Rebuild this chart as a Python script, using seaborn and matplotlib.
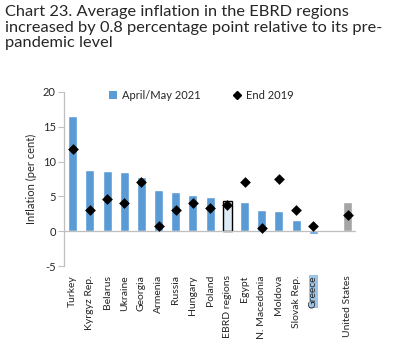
import numpy as np
import pandas as pd
import matplotlib
matplotlib.use("Agg")
import matplotlib.pyplot as plt
import seaborn as sns
from matplotlib.patches import Patch
from matplotlib.lines import Line2D

countries = ["Turkey", "Kyrgyz Rep.", "Belarus", "Ukraine", "Georgia", "Armenia", "Russia",
             "Hungary", "Poland", "EBRD regions", "Egypt", "N. Macedonia", "Moldova",
             "Slovak Rep.", "Greece", " ", "United States"]
apr_may_2021 = [16.5, 8.8, 8.6, 8.5, 7.8, 5.9, 5.6, 5.2, 4.9, 4.4, 4.2, 3.0, 2.9, 1.6, -0.4, np.nan, 4.2]
end_2019 = [11.8, 3.1, 4.7, 4.1, 7.0, 0.7, 3.1, 4.0, 3.4, 3.8, 7.1, 0.4, 7.5, 3.0, 0.8, np.nan, 2.3]

blue = "#5B9BD5"
colors = {c: blue for c in countries}
colors["EBRD regions"] = "#DDEBF7"
colors["United States"] = "#A5A5A5"

df = pd.DataFrame({"country": countries, "apr": apr_may_2021, "end": end_2019})

sns.set_style("white")
plt.rcParams["font.family"] = ["Lato", "DejaVu Sans"]

fig = plt.figure(figsize=(3.98, 3.62), dpi=100)
ax = fig.add_axes([0.161, 0.265, 0.734, 0.481])

sns.barplot(data=df, x="country", y="apr", hue="country", order=countries, hue_order=countries,
            palette=colors, width=0.52, legend=False, ax=ax, saturation=1)
for p, c in zip(ax.patches, countries):
    if c == "EBRD regions":
        p.set_edgecolor("black")
        p.set_linewidth(1.0)

sns.scatterplot(x=np.arange(len(countries)), y=df["end"], marker="D", color="black",
                s=30, linewidth=0, ax=ax, zorder=3)

ax.set_xlim(-0.5, len(countries) - 0.5)
ax.set_ylim(-5, 20)
ax.set_yticks([-5, 0, 5, 10, 15, 20])
ax.set_yticklabels(["-5", "0", "5", "10", "15", "20"], fontsize=8)
ax.axhline(0, color="#BFBFBF", lw=0.9, zorder=1)

for s in ["top", "right", "bottom"]:
    ax.spines[s].set_visible(False)
ax.spines["left"].set_color("#BFBFBF")
ax.spines["left"].set_linewidth(0.9)
ax.tick_params(axis="y", left=True, length=4, color="#BFBFBF", pad=2)
ax.tick_params(axis="x", bottom=False, pad=3)

ax.set_xticks(range(len(countries)))
ax.set_xticklabels(countries, rotation=90, fontsize=7.5)
ax.set_xlabel("")
ax.set_ylabel("Inflation (per cent)", fontsize=8, labelpad=4)

handles = [Patch(facecolor=blue, edgecolor="none", label="April/May 2021"),
           Line2D([], [], marker="D", color="black", linestyle="none", markersize=4, label="End 2019")]
ax.legend(handles=handles, loc="upper center", bbox_to_anchor=(0.47, 1.07), ncol=2, frameon=False,
          fontsize=8, handlelength=0.7, handletextpad=0.4, columnspacing=3.0)

fig.text(0.013, 0.985, "Chart 23. Average inflation in the EBRD regions\n"
         "increased by 0.8 percentage point relative to its pre-\npandemic level",
         ha="left", va="top", fontsize=11.8, linespacing=1.12)

# highlight behind the Greece label, sized from the rendered label
fig.canvas.draw()
lab = [t for t in ax.get_xticklabels() if t.get_text() == "Greece"][0]
ext = lab.get_window_extent().transformed(fig.transFigure.inverted())
fig.patches.append(plt.Rectangle((ext.x0, ext.y0), ext.width, ext.height, transform=fig.transFigure,
                                 facecolor="#9DC3E6", edgecolor="none", zorder=-1))

fig.savefig("out.png", dpi=100)
